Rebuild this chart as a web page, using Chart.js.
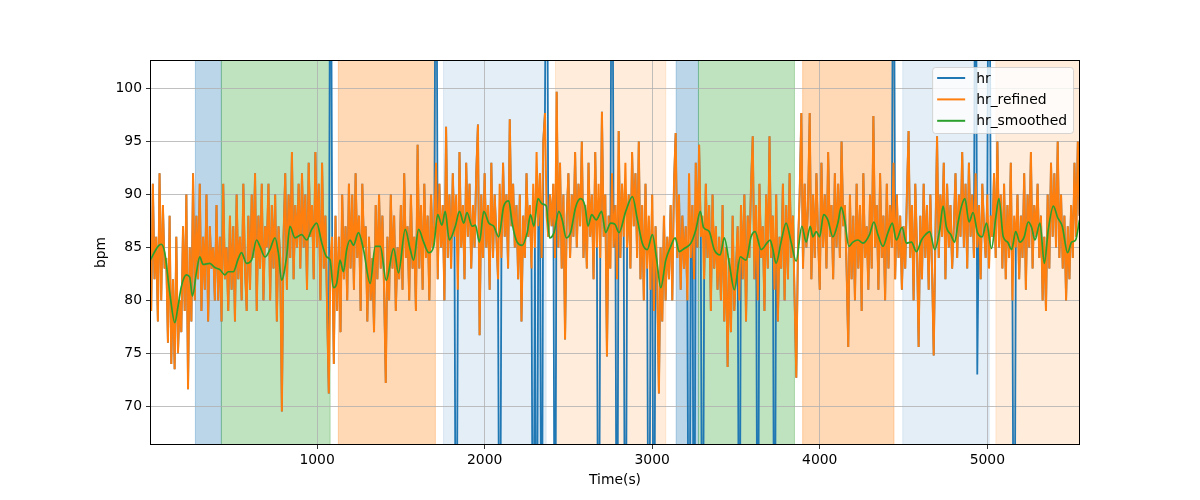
<!DOCTYPE html>
<html>
<head>
<meta charset="utf-8">
<script src="https://cdn.jsdelivr.net/npm/chart.js@4.4.0/dist/chart.umd.min.js"></script>
<style>
  html, body { margin: 0; padding: 0; background: #fff; }
  #wrap { width: 1200px; height: 500px; }
</style>
</head>
<body>
<div id="wrap"><canvas id="hrChart" width="1200" height="500"></canvas></div>
<script>
// Tick labels
const xTicks = [1000, 2000, 3000, 4000, 5000];
const yTicks = [70, 75, 80, 85, 90, 95, 100];

// hr_refined, one sample every 10 s starting at 0 (one row = 100 s)
const refinedStart = 0;
const refinedStep = 10;
const refinedValues = [
    88, 79, 91, 82, 86, 78, 92, 80, 89, 83,
    84, 76, 88, 74, 82, 73.5, 86, 75, 80, 77,
    87, 79, 90, 71.6, 85, 78, 92, 80, 88, 82,
    91, 79, 86, 81, 90, 78, 87, 83, 85, 80,
    89, 80, 86, 78, 91, 82, 85, 79, 88, 81,
    87, 78, 90, 82, 86, 80, 91, 83, 79, 88,
    81, 90, 84, 92, 79, 88, 83, 91, 80, 87,
    85, 91, 80, 89, 83, 90, 78, 87, 84, 69.5,
    86, 92, 81, 90, 84, 94, 82, 89, 85, 91,
    83, 92, 85, 90, 81, 93, 86, 89, 82, 94,
    85, 91, 80, 93, 83, 88, 79, 71.2, 84, 86,
    74, 88, 79, 86, 77, 90, 82, 87, 80, 91,
    83, 90, 81, 92, 84, 88, 79, 91, 85, 87,
    78, 86, 80, 84, 77, 89, 82, 90, 83, 88,
    81, 72.2, 86, 80, 90, 83, 88, 79, 85, 82,
    89, 81, 92, 84, 87, 80, 90, 83, 86, 79,
    94.7, 83, 89, 81, 91, 84, 88, 80, 90, 85,
    87, 93, 82, 91, 85, 89, 80, 96.4, 84, 90,
    83, 92, 86, 90, 81, 94, 85, 89, 82, 93,
    86, 91, 83, 89, 85, 92, 96.6, 76.7, 90, 84,
    92, 85, 89, 81, 93, 84, 90, 86, 82, 91,
    84, 93, 86, 90, 83, 97.1, 87, 91, 85, 89,
    82, 90, 78, 88, 84, 92, 86, 89, 83, 91,
    85, 94, 87, 92, 84, 95, 97.7, 88, 86, 90,
    87, 91, 84, 99.7, 85, 93, 83, 90, 76.3, 88,
    92, 84, 90, 86, 94, 85, 91, 87, 95, 84,
    89, 83, 93, 86, 90, 82, 94, 85, 91, 84,
    97.8, 86, 90, 74.7, 88, 83, 92, 85, 89, 82,
    96, 84, 91, 86, 93, 85, 90, 83, 94, 87,
    92, 84, 95, 82, 89, 80, 91, 83, 88, 81,
    90, 79, 87, 82, 71.2, 85, 78, 88, 80, 86,
    82, 89, 80, 91, 95.8, 84, 90, 81, 88, 83,
    87, 80, 92, 84, 89, 82, 93, 85, 94.7, 86,
    88, 82, 91, 84, 89, 79, 90, 83, 87, 81,
    86, 80, 89, 78, 85, 73.7, 84, 77, 88, 79,
    83, 87, 80, 89, 82, 90, 78, 88, 84, 91,
    95.5, 82, 89, 80, 91, 84, 87, 79, 90, 83,
    95.5, 84, 88, 81, 90, 78, 86, 83, 91, 80,
    89, 82, 92, 84, 88, 80, 72.7, 85, 90, 97.7,
    83, 91, 85, 89, 97.7, 82, 90, 84, 92, 86,
    81, 93, 85, 90, 83, 94, 86, 89, 82, 92,
    85, 91, 84, 95, 87, 89, 83, 75.6, 90, 82,
    88, 80, 91, 83, 89, 79, 92, 84, 87, 81,
    90, 83, 97.4, 85, 89, 81, 92, 84, 88, 80,
    91, 83, 89, 85, 93, 82, 90, 84, 88, 81,
    87, 83, 90, 96, 84, 89, 80, 91, 85, 75.6,
    88, 82, 91, 84, 89, 81, 90, 83, 74.8, 86,
    95.5, 84, 90, 86, 93, 82, 91, 85, 89, 83,
    87, 92, 84, 90, 86, 94, 85, 91, 83, 93,
    86, 90, 84, 92, 85, 89, 82, 91, 87, 84,
    90, 83, 88, 86, 92, 84, 95, 85, 90, 83,
    91, 82, 89, 84, 93, 80, 88, 85, 90, 82,
    88, 84, 92, 81, 90, 85, 94, 83, 89, 86,
    91, 84, 88, 80, 86, 79, 90, 83, 93, 86,
    92, 85, 95, 84, 90, 83, 88, 80, 87, 82,
    89, 84, 93, 86, 95, 88
];

// raw hr: same as hr_refined except these artefact samples
const hrSpikeTimes  = [1080, 1710, 1830, 2090, 2290, 2310, 2340, 2370, 2420, 2680, 2760, 2790, 2840,
                       2980, 3010, 3220, 3250, 3300, 3520, 3630, 3730, 4440, 4930, 4940, 5010, 5160];
const hrSpikeValues = [130, 130, 40, 40, 40, 40, 40, 130, 40, 40, 130, 40, 40,
                       40, 40, 40, 40, 40, 40, 40, 40, 130, 130, 73, 130, 40];

// hr_smoothed
const smoothTimes = [
    5, 51, 70, 91, 121, 151, 170, 190, 220, 240, 256, 280, 300, 320, 360, 390, 420, 450, 470, 500,
    529, 549, 579, 609, 639, 659, 689, 719, 749, 769, 788, 818, 838, 868, 908, 938, 968, 998, 1027, 1057,
    1078, 1097, 1117, 1137, 1157, 1177, 1197, 1217, 1247, 1277, 1317, 1347, 1377, 1413, 1457, 1486, 1526, 1556, 1576, 1606,
    1636, 1666, 1696, 1720, 1745, 1765, 1789, 1825, 1850, 1875, 1895, 1925, 1945, 1969, 1995, 2025, 2054, 2084, 2114, 2144,
    2164, 2194, 2224, 2254, 2274, 2294, 2318, 2344, 2368, 2388, 2414, 2443, 2463, 2487, 2513, 2543, 2573, 2599, 2617, 2639,
    2666, 2698, 2722, 2752, 2777, 2802, 2842, 2882, 2912, 2941, 2971, 3001, 3027, 3051, 3081, 3111, 3137, 3161, 3191, 3231,
    3261, 3287, 3306, 3340, 3370, 3406, 3430, 3460, 3490, 3526, 3560, 3590, 3614, 3650, 3689, 3704, 3719, 3739, 3769, 3799,
    3829, 3859, 3893, 3919, 3943, 3959, 3979, 3999, 4023, 4048, 4078, 4108, 4128, 4148, 4174, 4198, 4228, 4258, 4297, 4323,
    4347, 4377, 4407, 4433, 4457, 4491, 4517, 4547, 4577, 4607, 4630, 4656, 4686, 4716, 4736, 4756, 4782, 4805, 4825, 4846,
    4866, 4891, 4915, 4941, 4969, 4995, 5025, 5051, 5069, 5095, 5121, 5145, 5169, 5194, 5220, 5244, 5264, 5284, 5314, 5340,
    5364, 5394, 5420, 5447, 5479, 5503, 5527, 5550
];
const smoothValues = [
    83.8, 85.1, 85.3, 84.5, 80.7, 77.9, 79.4, 81.3, 82.4, 82.2, 80.4, 82.6, 84.1, 83.4, 83.5, 83.1, 82.9, 82.4, 82.7, 82.7,
    83.9, 84.5, 83.5, 83.8, 85.7, 85.1, 84.1, 84.8, 85.9, 84.5, 81.9, 84.1, 87.0, 85.9, 86.2, 85.7, 86.7, 87.3, 85.5, 84.1,
    83.8, 81.2, 81.6, 83.8, 82.7, 84.8, 85.7, 85.2, 86.4, 84.8, 81.6, 85.1, 85.1, 81.9, 84.9, 82.6, 86.7, 84.8, 83.8, 86.7,
    85.5, 84.5, 85.1, 88.1, 87.1, 88.4, 85.7, 87.0, 88.4, 87.3, 88.3, 87.0, 87.1, 85.5, 88.4, 87.3, 87.0, 86.0, 88.9, 89.4,
    87.3, 85.5, 85.2, 86.4, 88.1, 87.0, 89.6, 89.1, 88.9, 85.9, 86.4, 88.4, 87.6, 85.9, 86.4, 88.8, 89.6, 88.9, 87.0, 88.1,
    87.6, 88.4, 86.4, 87.3, 87.2, 86.4, 88.4, 89.8, 87.6, 85.4, 84.8, 86.2, 83.8, 81.2, 83.8, 85.1, 85.9, 84.6, 84.9, 85.4,
    86.7, 88.4, 86.9, 86.5, 84.8, 84.3, 85.9, 83.5, 81.0, 84.1, 83.8, 86.0, 86.5, 84.8, 85.5, 85.7, 84.9, 83.5, 85.5, 87.3,
    85.5, 83.7, 87.0, 85.5, 87.0, 86.0, 86.5, 86.0, 88.1, 87.6, 86.0, 87.3, 88.8, 87.6, 85.1, 85.5, 85.7, 85.4, 86.2, 87.4,
    86.2, 85.1, 86.4, 87.3, 85.7, 86.9, 85.4, 85.5, 84.6, 85.7, 86.2, 86.5, 84.8, 86.7, 88.9, 86.9, 86.2, 85.5, 87.3, 88.9,
    89.6, 87.4, 88.3, 86.4, 86.0, 87.3, 84.9, 87.9, 89.6, 86.0, 85.5, 84.8, 86.5, 85.5, 86.0, 87.4, 86.9, 85.7, 87.3, 83.5,
    86.7, 88.9, 87.8, 87.0, 84.5, 85.5, 85.7, 87.6
];

// Shaded activity periods
const spanStarts = [274, 429, 1127, 1755, 2423, 3143, 3276, 3898, 4495, 5051];
const spanEnds   = [429, 1078, 1706, 2367, 3081, 3276, 3849, 4443, 5011, 5560];
const spanColors = [
    'rgba(31,119,180,0.3)', 'rgba(44,160,44,0.3)', 'rgba(255,127,14,0.3)', 'rgba(31,119,180,0.12)', 'rgba(255,127,14,0.15)',
    'rgba(31,119,180,0.3)', 'rgba(44,160,44,0.3)', 'rgba(255,127,14,0.3)', 'rgba(31,119,180,0.12)', 'rgba(255,127,14,0.15)'
];

const FONT = { family: "'DejaVu Sans', sans-serif", size: 13.9 };

const refinedPoints = refinedValues.map((v, i) => ({ x: refinedStart + i * refinedStep, y: v }));
const hrPoints = refinedPoints.map(p => {
    const k = hrSpikeTimes.indexOf(p.x);
    return { x: p.x, y: k >= 0 ? hrSpikeValues[k] : p.y };
});
const smoothPoints = smoothTimes.map((t, i) => ({ x: t, y: smoothValues[i] }));

// axvspan-like shading, drawn under the grid
const spanPlugin = {
    id: 'spans',
    beforeDraw(chart) {
        const { ctx, chartArea, scales } = chart;
        ctx.save();
        ctx.beginPath();
        ctx.rect(chartArea.left, chartArea.top, chartArea.right - chartArea.left, chartArea.bottom - chartArea.top);
        ctx.clip();
        for (let i = 0; i < spanStarts.length; i++) {
            const x0 = scales.x.getPixelForValue(spanStarts[i]);
            const x1 = scales.x.getPixelForValue(spanEnds[i]);
            ctx.fillStyle = spanColors[i];
            ctx.fillRect(x0, chartArea.top, x1 - x0, chartArea.bottom - chartArea.top);
            ctx.strokeStyle = spanColors[i];
            ctx.lineWidth = 1;
            ctx.strokeRect(x0, chartArea.top, x1 - x0, chartArea.bottom - chartArea.top);
        }
        ctx.restore();
    },
    afterDatasetsDraw(chart) {
        const { ctx, chartArea } = chart;
        ctx.save();
        ctx.strokeStyle = '#000';
        ctx.lineWidth = 1;
        ctx.strokeRect(Math.round(chartArea.left) + 0.5, Math.round(chartArea.top) + 0.5,
            Math.round(chartArea.right - chartArea.left) - 1, Math.round(chartArea.bottom - chartArea.top) - 1);
        ctx.restore();
    }
};

// matplotlib-style legend in the upper right corner of the plot
const legendPlugin = {
    id: 'innerLegend',
    afterDraw(chart) {
        const { ctx, chartArea } = chart;
        const sets = chart.data.datasets;
        ctx.save();
        ctx.font = FONT.size + 'px ' + FONT.family;
        let textW = 0;
        sets.forEach(ds => { textW = Math.max(textW, ctx.measureText(ds.label).width); });
        const w = 44 + textW + 6;
        const h = 66;
        const x = chartArea.right - 7 - w;
        const y = chartArea.top + 7;
        ctx.beginPath();
        ctx.roundRect(x + 0.5, y + 0.5, w, h, 3);
        ctx.fillStyle = 'rgba(255,255,255,0.8)';
        ctx.fill();
        ctx.strokeStyle = 'rgba(204,204,204,0.8)';
        ctx.lineWidth = 1;
        ctx.stroke();
        ctx.textBaseline = 'middle';
        ctx.fillStyle = '#000';
        sets.forEach((ds, i) => {
            const cy = y + 11 + i * 21.4;
            ctx.beginPath();
            ctx.moveTo(x + 5, cy);
            ctx.lineTo(x + 33, cy);
            ctx.strokeStyle = ds.borderColor;
            ctx.lineWidth = 2;
            ctx.stroke();
            ctx.fillText(ds.label, x + 44, cy + 1);
        });
        ctx.restore();
    }
};

new Chart(document.getElementById('hrChart'), {
    type: 'line',
    data: {
        datasets: [
            {
                label: 'hr',
                data: hrPoints,
                borderColor: '#1f77b4',
                borderWidth: 1.8,
                pointRadius: 0,
                tension: 0,
                order: 3
            },
            {
                label: 'hr_refined',
                data: refinedPoints,
                borderColor: '#ff7f0e',
                borderWidth: 2,
                pointRadius: 0,
                tension: 0,
                order: 2
            },
            {
                label: 'hr_smoothed',
                data: smoothPoints,
                borderColor: '#2ca02c',
                borderWidth: 1.7,
                pointRadius: 0,
                cubicInterpolationMode: 'monotone',
                order: 1
            }
        ]
    },
    options: {
        responsive: false,
        animation: false,
        devicePixelRatio: 1,
        layout: { padding: { left: 89, right: 120, top: 60, bottom: 7 } },
        plugins: {
            legend: { display: false },
            tooltip: { enabled: false }
        },
        scales: {
            x: {
                type: 'linear',
                min: 3,
                max: 5553,
                afterBuildTicks: s => { s.ticks = xTicks.map(v => ({ value: v })); },
                afterFit: s => { s.height = 48; },
                ticks: { color: '#000', font: FONT, padding: 3, maxRotation: 0, callback: v => String(v) },
                grid: { color: '#b0b0b0', lineWidth: 0.8, tickLength: 4, tickColor: '#000' },
                border: { display: false },
                title: { display: true, text: 'Time(s)', color: '#000', font: FONT, padding: { top: 4, bottom: 4 } }
            },
            y: {
                type: 'linear',
                min: 66.34,
                max: 102.7,
                afterBuildTicks: s => { s.ticks = yTicks.map(v => ({ value: v })); },
                afterFit: s => { s.width = 61; },
                ticks: { color: '#000', font: FONT, padding: 4, callback: v => String(v) },
                grid: { color: '#b0b0b0', lineWidth: 0.8, tickLength: 4, tickColor: '#000' },
                border: { display: false },
                title: { display: true, text: 'bpm', color: '#000', font: FONT, padding: { top: 4, bottom: 4 } }
            }
        }
    },
    plugins: [spanPlugin, legendPlugin]
});
</script>
</body>
</html>
